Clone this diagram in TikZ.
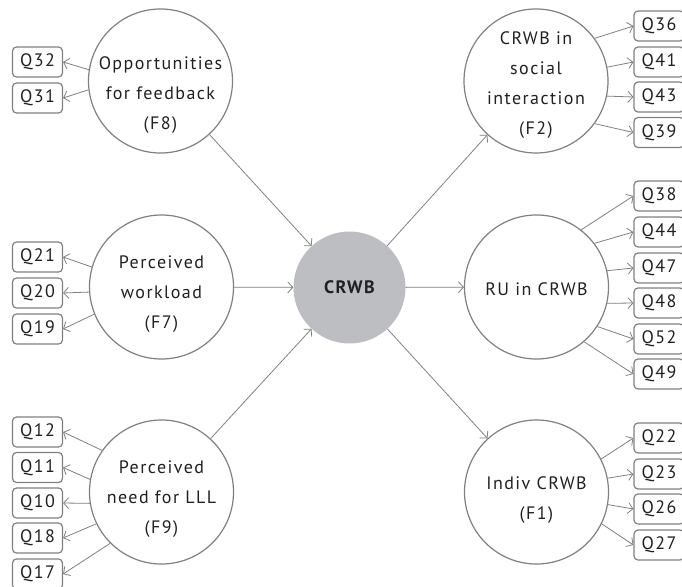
\documentclass[tikz,border=0pt]{standalone}
\usepackage{fontspec}
\setmainfont[LetterSpace=8]{PT Sans}
\usetikzlibrary{arrows.meta}
\definecolor{linegray}{RGB}{128,128,131}
\definecolor{textgray}{RGB}{32,32,35}
\definecolor{hubgray}{RGB}{189,190,193}

\begin{document}
\begin{tikzpicture}[x=1pt, y=-1pt, >={Straight Barb[length=5pt,width=11pt]},
  factor/.style={circle, draw=linegray, line width=1.2pt, minimum size=144pt, inner sep=0pt},
  ftext/.style={align=center, text=textgray, font=\fontsize{18}{30}\selectfont},
  hub/.style={circle, fill=hubgray, minimum size=112pt, inner sep=0pt, text=textgray,
    font=\fontsize{18}{30}\selectfont\bfseries},
  item/.style={draw=linegray, line width=1.2pt, rounded corners=4pt, minimum width=50pt,
    minimum height=30pt, inner sep=0pt, text=textgray, font=\fontsize{18}{20}\selectfont},
  link/.style={->, draw=linegray, line width=0.8pt}]

\useasboundingbox (0,0) rectangle (682,586);
\clip (0,0) rectangle (682,586);

% factors and the hub
\node[factor, label={[ftext, yshift=-14pt]center:{Opportunities\\for feedback\\(F8)}}] (fb) at (160.5,81) {};
\node[factor, label={[ftext, yshift=-7pt]center:{Perceived\\workload\\(F7)}}] (wl) at (161.5,287) {};
\node[factor, label={[ftext, yshift=-7pt]center:{Perceived\\need for LLL\\(F9)}}] (lll) at (161.5,492) {};
\node[hub] (crwb) at (349.5,287.5) {CRWB};
\node[factor, label={[ftext, yshift=-4pt]center:{CRWB in\\social\\interaction\\(F2)}}] (soc) at (536,81) {};
\node[factor, label={[ftext, yshift=-2pt]center:{RU in CRWB}}] (ru) at (536.5,287) {};
\node[factor, label={[ftext, yshift=-8pt]center:{Indiv CRWB\\(F1)}}] (ind) at (536.5,492) {};

\draw[link] (fb) -- (crwb);
\draw[link] (wl) -- (crwb);
\draw[link] (lll) -- (crwb);
\draw[link] (crwb) -- (soc);
\draw[link] (crwb) -- (ru);
\draw[link] (crwb) -- (ind);

% items, left side
\node[item] (q32) at (37.5,62) {Q32};
\node[item] (q31) at (37.5,98) {Q31};
\draw[link] (fb.171) -- (q32.east);
\draw[link] (fb.187) -- (q31.east);

\node[item] (q21) at (37.5,257) {Q21};
\node[item] (q20) at (37.5,293) {Q20};
\node[item] (q19) at (37.5,329) {Q19};
\draw[link] (wl.164) -- (q21.east);
\draw[link] (wl.184) -- (q20.east);
\draw[link] (wl.202) -- (q19.east);

\node[item] (q12) at (37.5,432) {Q12};
\node[item] (q11) at (37.5,467.5) {Q11};
\node[item] (q10) at (37.5,503) {Q10};
\node[item] (q18) at (37.5,538) {Q18};
\node[item] (q17) at (37.5,574) {Q17};
\draw[link] (lll.145) -- (q12.east);
\draw[link] (lll.170) -- (q11.east);
\draw[link] (lll.189) -- (q10.east);
\draw[link] (lll.206) -- (q18.east);
\draw[link] (lll.225) -- (q17.east);

% items, right side
\node[item] (q36) at (659,26) {Q36};
\node[item] (q41) at (659,62) {Q41};
\node[item] (q43) at (659,97) {Q43};
\node[item] (q39) at (659,132.5) {Q39};
\draw[link] (soc.36) -- (q36.west);
\draw[link] (soc.11) -- (q41.west);
\draw[link] (soc.-12) -- (q43.west);
\draw[link] (soc.-36) -- (q39.west);

\node[item] (q38) at (659,196) {Q38};
\node[item] (q44) at (659,232) {Q44};
\node[item] (q47) at (659,268) {Q47};
\node[item] (q48) at (659,303) {Q48};
\node[item] (q52) at (659,339) {Q52};
\node[item] (q49) at (659,374) {Q49};
\draw[link] (ru.52) -- (q38.west);
\draw[link] (ru.37) -- (q44.west);
\draw[link] (ru.13) -- (q47.west);
\draw[link] (ru.-13) -- (q48.west);
\draw[link] (ru.-33) -- (q52.west);
\draw[link] (ru.-49) -- (q49.west);

\node[item] (q22) at (659,438) {Q22};
\node[item] (q23) at (659,474) {Q23};
\node[item] (q26) at (659,509) {Q26};
\node[item] (q27) at (659,545) {Q27};
\draw[link] (ind.27) -- (q22.west);
\draw[link] (ind.11) -- (q23.west);
\draw[link] (ind.-10) -- (q26.west);
\draw[link] (ind.-26) -- (q27.west);

\end{tikzpicture}
\end{document}
